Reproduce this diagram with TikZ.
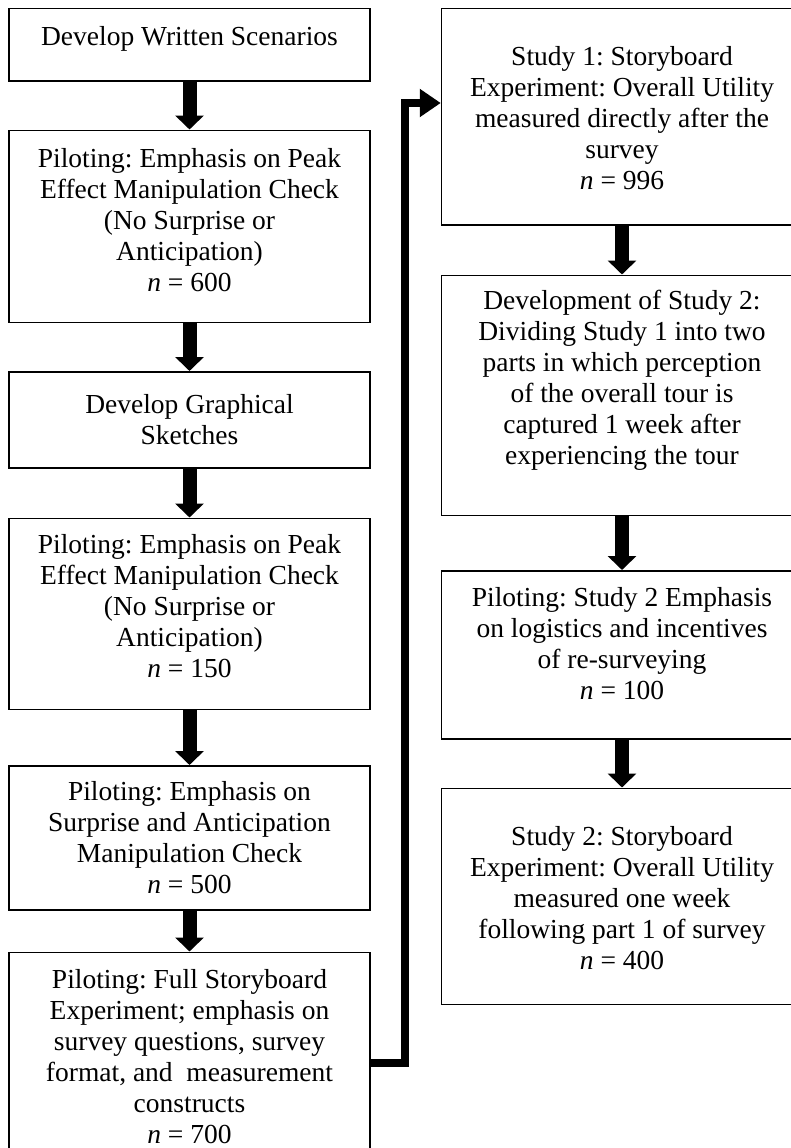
\documentclass[tikz,border=0pt]{standalone}
\usepackage{fontspec}
\setmainfont{Liberation Serif}
\usetikzlibrary{positioning, arrows.meta}
\frenchspacing

% box body: height, first baseline, lines
\newcommand{\flowtext}[3]{\parbox[c][#1][t]{361pt}{\centering\rule{0pt}{#2}#3}}

\tikzstyle{boxes} = [rectangle, draw=black, line width=1.5pt, inner sep=0pt, anchor=north,
font=\fontsize{27.5pt}{31pt}\selectfont]
\tikzstyle{arrow} = [line width=14pt, ->, >={Triangle[width=28pt, length=14pt]}]
\tikzstyle{link} = [line width=7.5pt, ->, >={Triangle[width=27pt, length=21pt]}]

\begin{document}
\begin{tikzpicture}[x=1pt, y=1pt]

    \fill[white] (0,0) rectangle (791,-1148);
    \useasboundingbox (0,0) rectangle (791,-1148);

    % left column
    \node (written) [boxes] at (189.5,-8) {\flowtext{72pt}{37pt}{Develop Written Scenarios}};
    \node (peakA) [boxes, below=48pt of written] {\flowtext{192pt}{37pt}{Piloting: Emphasis on Peak\\Effect Manipulation Check\\(No Surprise or\\Anticipation)\\\textit{n} = 600}};
    \node (sketches) [boxes, below=48pt of peakA] {\flowtext{96pt}{42pt}{Develop Graphical\\Sketches}};
    \node (peakB) [boxes, below=49pt of sketches] {\flowtext{191pt}{35pt}{Piloting: Emphasis on Peak\\Effect Manipulation Check\\(No Surprise or\\Anticipation)\\\textit{n} = 150}};
    \node (surprise) [boxes, below=55pt of peakB] {\flowtext{144pt}{35pt}{Piloting: Emphasis on\\Surprise and Anticipation\\Manipulation Check\\\textit{n} = 500}};
    \node (full) [boxes, below=41pt of surprise] {\flowtext{206pt}{36pt}{Piloting: Full Storyboard\\Experiment; emphasis on\\survey questions, survey\\format, and\ \ measurement\\constructs\\\textit{n} = 700}};

    % right column
    \node (studyone) [boxes] at (622,-8) {\flowtext{216pt}{57pt}{Study 1: Storyboard\\Experiment: Overall Utility\\measured directly after the\\survey\\\textit{n} = 996}};
    \node (devtwo) [boxes, below=49pt of studyone] {\flowtext{240pt}{34pt}{Development of Study 2:\\Dividing Study 1 into two\\parts in which perception\\of the overall tour is\\captured 1 week after\\experiencing the tour}};
    \node (pilottwo) [boxes, below=54pt of devtwo] {\flowtext{168pt}{36pt}{Piloting: Study 2 Emphasis\\on logistics and incentives\\of re-surveying\\\textit{n} = 100}};
    \node (studytwo) [boxes, below=48pt of pilottwo] {\flowtext{216pt}{57pt}{Study 2: Storyboard\\Experiment: Overall Utility\\measured one week\\following part 1 of survey\\\textit{n} = 400}};

    \draw[arrow] (written) -- (peakA);
    \draw[arrow] (peakA) -- (sketches);
    \draw[arrow] (sketches) -- (peakB);
    \draw[arrow] (peakB) -- (surprise);
    \draw[arrow] (surprise) -- (full);
    \draw[arrow] (studyone) -- (devtwo);
    \draw[arrow] (devtwo) -- (pilottwo);
    \draw[arrow] (pilottwo) -- (studytwo);

    % jump from the left column to the right one
    \coordinate (lowbend) at (405,-1063);
    \coordinate (highbend) at (405,-103);
    \draw[link] (full.east |- lowbend) -- (lowbend) -- (highbend) -- (studyone.west |- highbend);

\end{tikzpicture}
\end{document}
